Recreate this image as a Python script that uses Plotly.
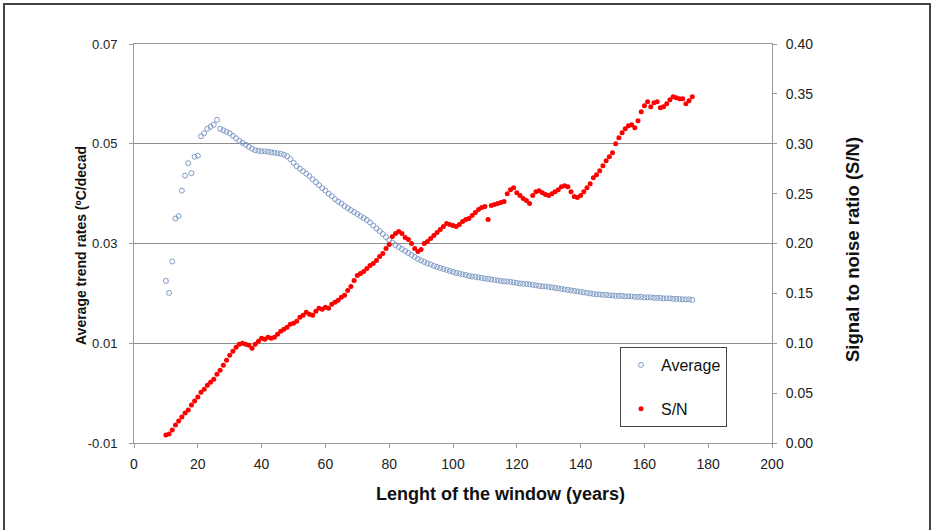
import plotly.graph_objects as go

# Window length (years)
window_years = list(range(10, 176))

# Average trend rate (ºC/decade), one value per window length 10..175
average_trend = [
    0.0225, 0.0201, 0.0264, 0.0350, 0.0355, 0.0406, 0.0436, 0.0461, 0.0441, 0.0474,  # 10-19
    0.0476, 0.0515, 0.0521, 0.0530, 0.0534, 0.0538, 0.0548, 0.0530, 0.0527, 0.0524,  # 20-29
    0.0521, 0.0516, 0.0511, 0.0506, 0.0502, 0.0498, 0.0494, 0.0490, 0.0487, 0.0486,  # 30-39
    0.0485, 0.0485, 0.0484, 0.0483, 0.0482, 0.0481, 0.0480, 0.0478, 0.0475, 0.0469,  # 40-49
    0.0462, 0.0455, 0.0450, 0.0445, 0.0440, 0.0435, 0.0429, 0.0423, 0.0417, 0.0411,  # 50-59
    0.0406, 0.0400, 0.0395, 0.0389, 0.0384, 0.0380, 0.0375, 0.0371, 0.0367, 0.0363,  # 60-69
    0.0359, 0.0355, 0.0351, 0.0347, 0.0342, 0.0336, 0.0330, 0.0325, 0.0319, 0.0313,  # 70-79
    0.0307, 0.0302, 0.0297, 0.0293, 0.0289, 0.0285, 0.0281, 0.0277, 0.0273, 0.0269,  # 80-89
    0.0266, 0.0263, 0.0260, 0.0258, 0.0255, 0.0253, 0.0251, 0.0249, 0.0247, 0.0245,  # 90-99
    0.0243, 0.0241, 0.0240, 0.0238, 0.0237, 0.0235, 0.0234, 0.0233, 0.0232, 0.0231,  # 100-109
    0.0230, 0.0229, 0.0228, 0.0227, 0.0226, 0.0225, 0.0224, 0.0224, 0.0223, 0.0222,  # 110-119
    0.0221, 0.0220, 0.0219, 0.0219, 0.0218, 0.0217, 0.0216, 0.0215, 0.0214, 0.0214,  # 120-129
    0.0213, 0.0212, 0.0211, 0.0210, 0.0209, 0.0208, 0.0207, 0.0206, 0.0205, 0.0204,  # 130-139
    0.0203, 0.0202, 0.0201, 0.0200, 0.0199, 0.0198, 0.0198, 0.0197, 0.0197, 0.0196,  # 140-149
    0.0196, 0.0195, 0.0195, 0.0195, 0.0194, 0.0194, 0.0194, 0.0193, 0.0193, 0.0193,  # 150-159
    0.0192, 0.0192, 0.0192, 0.0191, 0.0191, 0.0191, 0.0190, 0.0190, 0.0190, 0.0189,  # 160-169
    0.0189, 0.0189, 0.0188, 0.0188, 0.0188, 0.0187,                                  # 170-175
]

# Signal to noise ratio (S/N), one value per window length 10..175
signal_to_noise = [
    0.008, 0.009, 0.013, 0.018, 0.022, 0.026, 0.030, 0.033, 0.038, 0.042,  # 10-19
    0.046, 0.051, 0.054, 0.058, 0.061, 0.064, 0.069, 0.073, 0.078, 0.083,  # 20-29
    0.088, 0.092, 0.096, 0.099, 0.100, 0.099, 0.098, 0.095, 0.099, 0.102,  # 30-39
    0.105, 0.104, 0.106, 0.105, 0.106, 0.109, 0.112, 0.114, 0.116, 0.119,  # 40-49
    0.120, 0.122, 0.126, 0.128, 0.131, 0.129, 0.128, 0.132, 0.135, 0.134,  # 50-59
    0.136, 0.135, 0.139, 0.141, 0.143, 0.146, 0.148, 0.153, 0.157, 0.163,  # 60-69
    0.168, 0.170, 0.172, 0.175, 0.178, 0.180, 0.183, 0.187, 0.190, 0.195,  # 70-79
    0.199, 0.207, 0.210, 0.212, 0.210, 0.206, 0.204, 0.200, 0.195, 0.192,  # 80-89
    0.194, 0.200, 0.202, 0.205, 0.208, 0.211, 0.214, 0.217, 0.220, 0.219,  # 90-99
    0.218, 0.217, 0.219, 0.222, 0.224, 0.225, 0.228, 0.231, 0.234, 0.236,  # 100-109
    0.237, 0.224, 0.238, 0.239, 0.240, 0.241, 0.242, 0.250, 0.254, 0.256,  # 110-119
    0.251, 0.248, 0.245, 0.243, 0.240, 0.248, 0.252, 0.253, 0.251, 0.249,  # 120-129
    0.248, 0.250, 0.252, 0.254, 0.257, 0.258, 0.257, 0.252, 0.247, 0.246,  # 130-139
    0.248, 0.252, 0.256, 0.260, 0.266, 0.269, 0.273, 0.278, 0.283, 0.287,  # 140-149
    0.291, 0.300, 0.306, 0.311, 0.315, 0.318, 0.319, 0.316, 0.323, 0.332,  # 150-159
    0.338, 0.342, 0.337, 0.341, 0.342, 0.336, 0.337, 0.340, 0.344, 0.347,  # 160-169
    0.346, 0.345, 0.345, 0.340, 0.343, 0.347,                              # 170-175
]

x_ticks = [0, 20, 40, 60, 80, 100, 120, 140, 160, 180, 200]
left_ticks = [-0.01, 0.01, 0.03, 0.05, 0.07]
left_tick_text = ["-0.01", "0.01", "0.03", "0.05", "0.07"]
right_ticks = [0.00, 0.05, 0.10, 0.15, 0.20, 0.25, 0.30, 0.35, 0.40]

FONT = "Liberation Sans, Arial, sans-serif"
W, H = 936, 530
L, R, T, B = 134, 772, 44, 443  # plot area in pixels


def px_x(p):
    return (p - L) / (R - L)


def px_y(p):
    return (B - p) / (B - T)


fig = go.Figure()
fig.add_trace(go.Scatter(
    x=window_years, y=average_trend, name="Average", mode="markers",
    marker=dict(symbol="circle-open", size=5, color="#7F9BC6", line=dict(width=1)),
    legendgroup="a", yaxis="y",
))
fig.add_trace(go.Scatter(
    x=window_years, y=signal_to_noise, name="S/N", mode="markers",
    marker=dict(symbol="circle", size=5, color="#FF0000"),
    legendgroup="b", yaxis="y2",
))

axis_common = dict(
    showline=True, linecolor="#9a9a9a", linewidth=1,
    ticks="outside", ticklen=4, tickcolor="#9a9a9a",
    zeroline=False,
)

fig.update_layout(
    width=W, height=H,
    margin=dict(l=L, r=W - R, t=T, b=H - B),
    paper_bgcolor="white", plot_bgcolor="white",
    font=dict(family=FONT, color="#222"),
    xaxis=dict(range=[0, 200], tickvals=x_ticks, showgrid=False, mirror=True,
               ticklabelstandoff=4,
               tickfont=dict(family=FONT, size=14, color="#222"), **axis_common),
    yaxis=dict(range=[-0.01, 0.07], tickvals=left_ticks, ticktext=left_tick_text,
               showgrid=True, gridcolor="#8c8c8c", gridwidth=1, mirror=False,
               ticklabelstandoff=9,
               tickfont=dict(family=FONT, size=13, color="#222"), **axis_common),
    yaxis2=dict(range=[0, 0.40], tickvals=right_ticks, tickformat=".2f",
                overlaying="y", side="right", showgrid=False,
                ticklabelstandoff=6,
                tickfont=dict(family=FONT, size=14, color="#222"), **axis_common),
    legend=dict(
        x=px_x(620), y=px_y(347), xanchor="left", yanchor="top",
        bgcolor="white", bordercolor="#444", borderwidth=1,
        font=dict(family=FONT, size=16, color="#111"),
        traceorder="grouped", tracegroupgap=20, itemwidth=30,
    ),
    showlegend=True,
    annotations=[
        dict(text="<b>Lenght of the window (years)</b>", xref="paper", yref="paper",
             x=px_x(501), y=px_y(494), xanchor="center", yanchor="middle", showarrow=False,
             font=dict(family=FONT, size=18, color="#111")),
        dict(text="<b>Average trend rates (ºC/decad</b>", xref="paper", yref="paper",
             x=px_x(81), y=px_y(246), xanchor="center", yanchor="middle", showarrow=False,
             textangle=-90, font=dict(family=FONT, size=14, color="#111")),
        dict(text="<b>Signal to noise ratio (S/N)</b>", xref="paper", yref="paper",
             x=px_x(852), y=px_y(250), xanchor="center", yanchor="middle", showarrow=False,
             textangle=-90, font=dict(family=FONT, size=18.5, color="#111")),
    ],
    shapes=[
        dict(type="rect", xref="paper", yref="paper",
             x0=px_x(4), x1=px_x(930), y0=px_y(540), y1=px_y(4),
             line=dict(color="#444", width=2), fillcolor="rgba(0,0,0,0)", layer="below"),
    ],
)

fig.write_html("out.html")
